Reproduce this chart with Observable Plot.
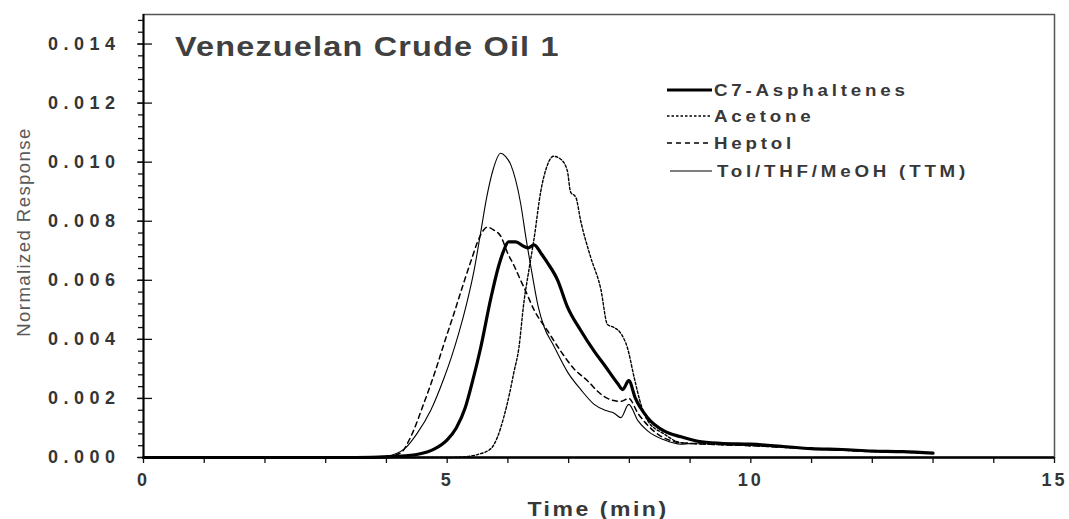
<!DOCTYPE html>
<html>
<head>
<meta charset="utf-8">
<script src="https://cdn.jsdelivr.net/npm/d3@7"></script>
<script src="https://cdn.jsdelivr.net/npm/@observablehq/plot@0.6"></script>
<style>
  html, body { margin: 0; padding: 0; background: #fff; }
  #wrap { position: relative; width: 1069px; height: 519px; overflow: hidden; font-family: "Liberation Sans", Arial, sans-serif; }
  #chart g[aria-label="y-axis tick label"] text { letter-spacing: 5.5px; }
  #chart g[aria-label="x-axis tick label"] text { letter-spacing: 3px; }
  .ovl { position: absolute; white-space: nowrap; }
  #title { left: 175px; top: 34px; font-weight: bold; font-size: 27px; line-height: 27px; color: #404040; letter-spacing: 1px; transform: scaleX(1.2); transform-origin: left center; }
  #xlab { left: 598px; top: 499px; font-weight: bold; font-size: 20px; line-height: 20px; color: #383838; letter-spacing: 2.2px; transform: translateX(-50%) scaleX(1.15); }
  #ylab { left: 23.5px; top: 232px; font-size: 18.6px; line-height: 18.6px; color: #595959; letter-spacing: 1.4px; transform: translate(-50%, -50%) rotate(-90deg); }
  .legline { position: absolute; width: 46px; height: 10px; }
  .legtext { position: absolute; font-weight: bold; font-size: 16.3px; line-height: 16.3px; color: #383838; letter-spacing: 3.3px; transform: scaleX(1.15); transform-origin: left center; white-space: nowrap; }
</style>
</head>
<body>
<div id="wrap">
  <div id="chart"></div>
  <div id="title" class="ovl">Venezuelan Crude Oil 1</div>
  <div id="xlab" class="ovl">Time (min)</div>
  <div id="ylab" class="ovl">Normalized Response</div>
  <div id="legend"></div>
</div>
<script>
// ---- data ----
const seriesNames = ["C7-Asphaltenes", "Acetone", "Heptol", "Tol/THF/MeOH (TTM)"];

const c7Time  = [0,3.5,4.0,4.3,4.5,4.8,5.0,5.15,5.3,5.42,5.55,5.72,5.85,5.93,6.01,6.13,6.26,6.34,6.43,6.55,6.65,6.82,6.98,7.2,7.42,7.6,7.81,7.89,7.99,8.1,8.3,8.57,8.85,9.13,9.5,10,10.5,11,11.5,12,12.5,13];
const c7Value = [0,0,0.00002,0.00006,0.0001,0.0003,0.0006,0.001,0.0017,0.0026,0.0037,0.0054,0.0065,0.0070,0.0073,0.0073,0.00715,0.0071,0.0072,0.0069,0.0066,0.0060,0.0051,0.0043,0.0036,0.0031,0.0025,0.0023,0.0026,0.0020,0.00135,0.0009,0.0007,0.00055,0.00048,0.00045,0.00038,0.0003,0.00027,0.00022,0.0002,0.00015];

const acetoneTime  = [0,5.0,5.3,5.5,5.72,5.83,5.93,6.02,6.1,6.18,6.26,6.35,6.43,6.54,6.65,6.75,6.87,6.98,7.03,7.12,7.2,7.36,7.53,7.64,7.75,7.86,7.97,8.08,8.19,8.3,8.57,8.85,9.3,10,10.5,11,11.5,12,12.5,13];
const acetoneValue = [0,0,0.00003,0.0001,0.0003,0.0007,0.00135,0.0021,0.0029,0.0037,0.0052,0.0064,0.0074,0.0090,0.0099,0.0102,0.0101,0.0097,0.0090,0.0088,0.0080,0.0068,0.0057,0.0045,0.0044,0.0042,0.0037,0.0027,0.0018,0.00125,0.0008,0.0005,0.00045,0.0004,0.00035,0.0003,0.00025,0.0002,0.00018,0.00015];

const heptolTime  = [0,3.5,4.0,4.23,4.4,4.61,4.8,4.94,5.1,5.27,5.4,5.5,5.6,5.66,5.77,5.88,6.0,6.1,6.21,6.3,6.43,6.65,6.87,7.09,7.31,7.5,7.64,7.86,7.99,8.14,8.4,8.85,9.3,10,10.5,11,11.5,12,12.5,13];
const heptolValue = [0,0,0.00003,0.00015,0.0007,0.0018,0.0029,0.0038,0.0048,0.0059,0.0067,0.0073,0.0077,0.0078,0.0077,0.0075,0.0069,0.0065,0.0060,0.0056,0.0050,0.0043,0.0036,0.0030,0.0026,0.0022,0.0020,0.0019,0.0020,0.0015,0.0009,0.0005,0.00045,0.0004,0.00035,0.0003,0.00025,0.0002,0.00018,0.00015];

const ttmTime  = [0,3.5,4.0,4.3,4.5,4.73,4.95,5.07,5.19,5.32,5.44,5.55,5.65,5.75,5.88,5.96,6.05,6.21,6.3,6.4,6.5,6.6,6.75,6.98,7.2,7.42,7.6,7.75,7.86,7.99,8.14,8.3,8.57,8.85,9.2,9.6,10,10.5,11,11.5,12,12.5,13];
const ttmValue = [0,0,0.00005,0.0003,0.0008,0.0016,0.0027,0.0034,0.0042,0.0052,0.0063,0.0076,0.0088,0.0097,0.0103,0.0102,0.0099,0.0086,0.0074,0.0062,0.0051,0.0044,0.0038,0.0029,0.0023,0.0018,0.0016,0.0015,0.00135,0.0018,0.00125,0.0009,0.0006,0.00045,0.0005,0.00045,0.00042,0.00035,0.0003,0.00025,0.00022,0.00018,0.00015];

const yMajorTicks = [0, 0.002, 0.004, 0.006, 0.008, 0.010, 0.012, 0.014];
const xLabelTicks = [0, 5, 10, 15];

// ---- styles ----
const styles = {
  "C7-Asphaltenes":     {strokeWidth: 3.2, dash: null},
  "Acetone":            {strokeWidth: 1.4, dash: "2.5,2"},
  "Heptol":             {strokeWidth: 1.5, dash: "5,4"},
  "Tol/THF/MeOH (TTM)": {strokeWidth: 1.1, dash: null}
};

const toRows = (times, values) => times.map((t, i) => ({t, v: values[i]}));
const series = {
  "C7-Asphaltenes": toRows(c7Time, c7Value),
  "Acetone": toRows(acetoneTime, acetoneValue),
  "Heptol": toRows(heptolTime, heptolValue),
  "Tol/THF/MeOH (TTM)": toRows(ttmTime, ttmValue)
};

const yMinor = d3.range(0, 0.01481, 0.0004);
const xMinor = d3.range(0, 15.01, 1);
const tickFont = {fontSize: 18, fontWeight: "bold", fill: "#353535"};

const chart = Plot.plot({
  width: 1069,
  height: 519,
  marginLeft: 143,
  marginRight: 15,
  marginTop: 14,
  marginBottom: 62,
  style: {fontFamily: "'Liberation Sans', Arial, sans-serif", background: "#fff", overflow: "visible"},
  x: {domain: [0, 15]},
  y: {domain: [0, 0.015]},
  marks: [
    Plot.frame({stroke: "#555", strokeWidth: 1.5}),
    Plot.axisY(yMinor, {anchor: "left", tickSize: 5, text: null, label: null, stroke: "#111", strokeWidth: 1.3}),
    Plot.axisY(yMajorTicks, {anchor: "left", tickSize: 9, dx: 9, text: null, label: null, stroke: "#111", strokeWidth: 1.3}),
    Plot.axisY(yMajorTicks, {anchor: "left", tickSize: 6, tickPadding: 17, tickFormat: d3.format(".3f"),
      label: null, stroke: "#111", strokeWidth: 1.3, ...tickFont}),
    Plot.axisX(xMinor, {anchor: "bottom", tickSize: 6, text: null, label: null, stroke: "#111", strokeWidth: 1.3}),
    Plot.axisX(xLabelTicks, {anchor: "bottom", tickSize: 0, tickPadding: 16, label: null, ...tickFont}),
    ...seriesNames.map(name => Plot.line(series[name], {
      x: "t", y: "v", stroke: "#000",
      strokeWidth: styles[name].strokeWidth,
      strokeDasharray: styles[name].dash,
      curve: "monotone-x"
    })),
    Plot.ruleY([0], {stroke: "#000", strokeWidth: 2.6}),
    Plot.ruleX([0], {stroke: "#000", strokeWidth: 2})
  ]
});
document.getElementById("chart").appendChild(chart);

// ---- legend (inside the plot, top right) ----
const legendRows = [
  {name: "C7-Asphaltenes", lineLeft: 667, textLeft: 714, baseline: 95},
  {name: "Acetone", lineLeft: 667, textLeft: 714, baseline: 121},
  {name: "Heptol", lineLeft: 667, textLeft: 714, baseline: 148},
  {name: "Tol/THF/MeOH (TTM)", lineLeft: 670, textLeft: 717, baseline: 176}
];
const legend = d3.select("#legend");
for (const row of legendRows) {
  const st = styles[row.name];
  const svg = legend.append("svg").attr("class", "legline")
    .style("left", row.lineLeft + "px").style("top", (row.baseline - 10) + "px");
  svg.append("line").attr("x1", 0).attr("x2", 712 - row.lineLeft).attr("y1", 5).attr("y2", 5)
    .attr("stroke", "#000").attr("stroke-width", st.strokeWidth)
    .attr("stroke-dasharray", st.dash);
  legend.append("div").attr("class", "legtext")
    .style("left", row.textLeft + "px").style("top", (row.baseline - 13.5) + "px")
    .text(row.name);
}
</script>
</body>
</html>
